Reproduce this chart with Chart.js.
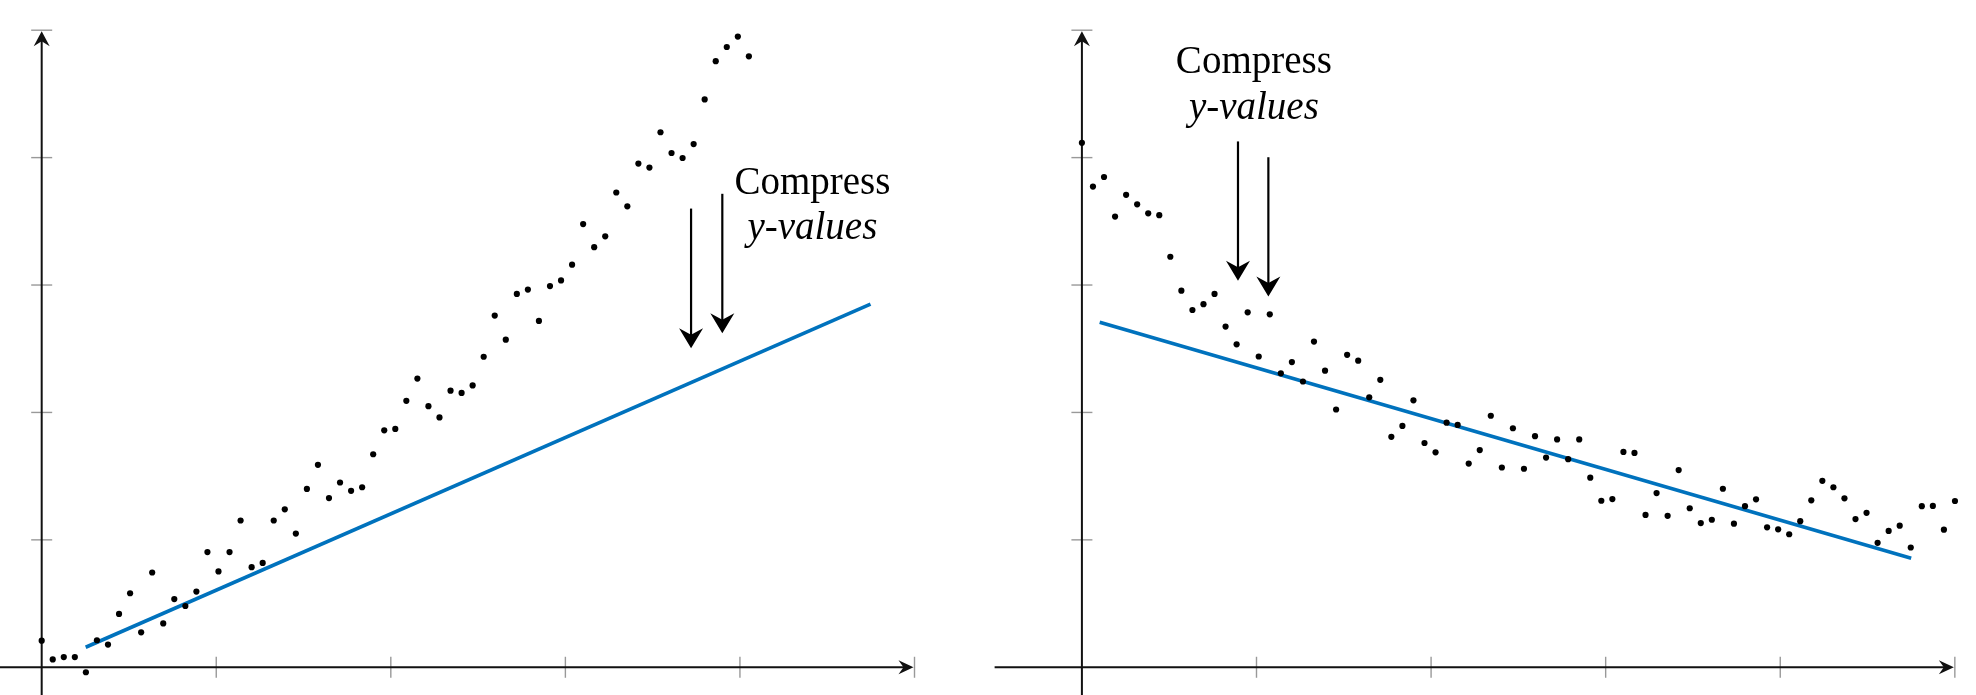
<!DOCTYPE html>
<html>
<head>
<meta charset="utf-8">
<script src="https://cdn.jsdelivr.net/npm/chart.js@4.4.1/dist/chart.umd.min.js"></script>
<style>
  html, body { margin: 0; padding: 0; background: #fff; }
  body { width: 1976px; height: 695px; position: relative; overflow: hidden; }
  canvas { position: absolute; top: 0; }
</style>
</head>
<body>
<canvas id="left" width="980" height="695" style="left:0px"></canvas>
<canvas id="right" width="996" height="695" style="left:980px"></canvas>
<script>
// ---- data ----
const STEP = 0.0633;              // spacing between observations on the x axis
const axisTicks = [1, 2, 3, 4, 5];

const leftY = [0.209,0.062,0.080,0.080,-0.039,0.212,0.178,0.419,0.581,0.274,
  0.744,0.344,0.535,0.481,0.594,0.904,0.752,0.904,1.152,0.786,
  0.819,1.152,1.240,1.049,1.400,1.589,1.328,1.450,1.385,1.413,
  1.672,1.860,1.871,2.091,2.266,2.049,1.961,2.171,2.153,2.212,
  2.437,2.760,2.571,2.930,2.964,2.718,2.992,3.036,3.160,3.478,
  3.297,3.382,3.726,3.618,3.953,3.922,4.199,4.036,3.997,4.106,
  4.457,4.757,4.868,4.950,4.795];
const leftFit = [[0.252, 0.157], [4.748, 2.850]];

const rightY = [4.116,3.773,3.848,3.537,3.708,3.633,3.563,3.548,3.222,2.956,
  2.804,2.850,2.930,2.674,2.535,2.786,2.439,2.770,2.307,2.395,
  2.243,2.556,2.328,2.023,2.452,2.406,2.119,2.256,1.809,1.894,
  2.095,1.760,1.687,1.920,1.902,1.599,1.705,1.974,1.568,1.876,
  1.558,1.814,1.646,1.788,1.633,1.788,1.488,1.307,1.320,1.690,
  1.682,1.196,1.367,1.189,1.548,1.248,1.132,1.158,1.401,1.127,
  1.264,1.318,1.098,1.083,1.044,1.147,1.310,1.463,1.413,1.326,
  1.163,1.212,0.977,1.070,1.111,0.940,1.264,1.266,1.080,1.305];
const rightFit = [[0.102, 2.708], [4.750, 0.855]];

const labelLines = ["Compress", "y-values"];
// annotation anchors in data units: [x, y]
const leftText = [4.415, 3.716, 3.359];
const leftArrows = [[3.720, 3.600, 2.503], [3.899, 3.716, 2.622]];
const rightText = [0.985, 4.663, 4.300];
const rightArrows = [[0.894, 4.127, 3.033], [1.068, 4.003, 2.910]];

const BLUE = '#0072BD';

function arrowHead(ctx, tx, ty, dx, dy, len, hw, notch) {
  const px = -dy, py = dx;
  const bx = tx - dx * len, by = ty - dy * len;
  ctx.beginPath();
  ctx.moveTo(tx, ty);
  ctx.lineTo(bx + px * hw, by + py * hw);
  ctx.lineTo(tx - dx * notch, ty - dy * notch);
  ctx.lineTo(bx - px * hw, by - py * hw);
  ctx.closePath();
  ctx.fill();
}

const axesPlugin = {
  id: 'axesPlugin',
  beforeDatasetsDraw(chart) {
    const ctx = chart.ctx, xs = chart.scales.x, ys = chart.scales.y;
    const x0 = xs.getPixelForValue(0), y0 = ys.getPixelForValue(0);
    const xEnd = xs.getPixelForValue(5), yEnd = ys.getPixelForValue(5);
    const xStart = xs.getPixelForValue(-0.5);
    const yStart = ys.getPixelForValue(-0.5);
    ctx.save();
    // ticks
    ctx.strokeStyle = '#999';
    ctx.lineWidth = 1.4;
    axisTicks.forEach(t => {
      const px = xs.getPixelForValue(t);
      ctx.beginPath(); ctx.moveTo(px, y0 - 10.5); ctx.lineTo(px, y0 + 10.5); ctx.stroke();
      const py = ys.getPixelForValue(t);
      ctx.beginPath(); ctx.moveTo(x0 - 10.5, py); ctx.lineTo(x0 + 10.5, py); ctx.stroke();
    });
    // axis lines
    ctx.strokeStyle = '#111';
    ctx.fillStyle = '#111';
    ctx.lineWidth = 2;
    ctx.beginPath(); ctx.moveTo(xStart, y0); ctx.lineTo(xEnd - 8, y0); ctx.stroke();
    ctx.beginPath(); ctx.moveTo(x0, yStart); ctx.lineTo(x0, yEnd + 8); ctx.stroke();
    arrowHead(ctx, xEnd - 1, y0, 1, 0, 15, 7, 10);
    arrowHead(ctx, x0, yEnd + 1, 0, -1, 15, 8, 10);
    ctx.restore();
  },
  afterDatasetsDraw(chart, args, opts) {
    const ctx = chart.ctx, xs = chart.scales.x, ys = chart.scales.y;
    ctx.save();
    ctx.fillStyle = '#000';
    ctx.strokeStyle = '#000';
    ctx.lineWidth = 2.2;
    opts.arrows.forEach(a => {
      const px = xs.getPixelForValue(a[0]);
      const p1 = ys.getPixelForValue(a[1]);
      const p2 = ys.getPixelForValue(a[2]);
      ctx.beginPath(); ctx.moveTo(px, p1); ctx.lineTo(px, p2 - 12); ctx.stroke();
      arrowHead(ctx, px, p2, 0, 1, 20, 12, 13.5);
    });
    const tx = xs.getPixelForValue(opts.text[0]);
    ctx.textAlign = 'center';
    ctx.textBaseline = 'alphabetic';
    ctx.font = "39px 'Liberation Serif', 'DejaVu Serif', serif";
    ctx.fillText(labelLines[0], tx, ys.getPixelForValue(opts.text[1]));
    ctx.font = "italic 39px 'Liberation Serif', 'DejaVu Serif', serif";
    ctx.fillText(labelLines[1], tx, ys.getPixelForValue(opts.text[2]));
    ctx.restore();
  }
};

function makeChart(id, ys, fit, xmin, xmax, text, arrows) {
  const pts = ys.map((v, i) => ({ x: i * STEP, y: v }));
  const line = fit.map(p => ({ x: p[0], y: p[1] }));
  new Chart(document.getElementById(id), {
    type: 'scatter',
    data: {
      datasets: [
        { type: 'line', data: line, borderColor: BLUE, borderWidth: 3.6, pointRadius: 0, fill: false, order: 2 },
        { data: pts, backgroundColor: '#000', borderWidth: 0, pointRadius: 3.1, order: 1 }
      ]
    },
    options: {
      responsive: false,
      devicePixelRatio: 1,
      animation: false,
      layout: { padding: 0 },
      events: [],
      scales: {
        x: { type: 'linear', display: false, min: xmin, max: xmax },
        y: { type: 'linear', display: false, min: -24 / 128.9, max: 671 / 128.9 }
      },
      plugins: {
        legend: { display: false },
        tooltip: { enabled: false },
        axesPlugin: { text: text, arrows: arrows }
      }
    },
    plugins: [axesPlugin]
  });
}

makeChart('left', leftY, leftFit, -38 / 176, (980 - 38) / 176, leftText, leftArrows);
makeChart('right', rightY, rightFit, -98.7 / 176, (996 - 98.7) / 176, rightText, rightArrows);
</script>
</body>
</html>
